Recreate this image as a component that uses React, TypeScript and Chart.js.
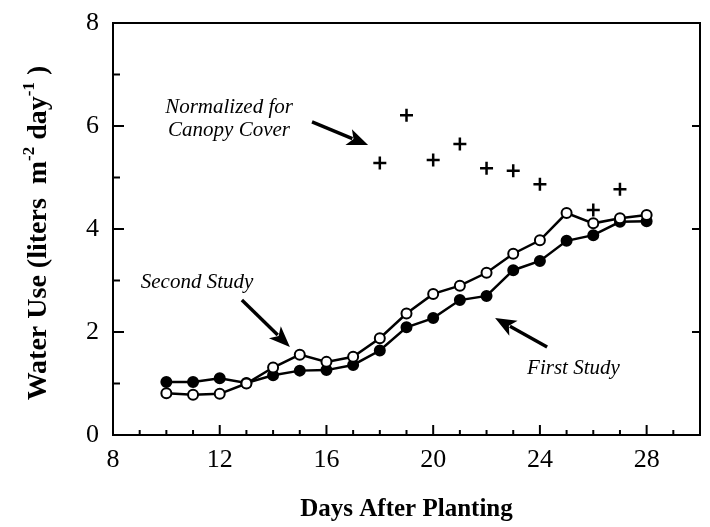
import React, { useEffect, useRef } from "react";
import { Chart, registerables } from "chart.js";

Chart.register(...registerables);

// ---- Data ----
const days = [10, 11, 12, 13, 14, 15, 16, 17, 18, 19, 20, 21, 22, 23, 24, 25, 26, 27, 28];
const firstStudy = [1.03, 1.03, 1.1, 1.01, 1.16, 1.25, 1.26, 1.36, 1.64, 2.09, 2.27, 2.62, 2.7, 3.2, 3.38, 3.77, 3.88, 4.14, 4.15];
const secondStudy = [0.81, 0.78, 0.8, 1.0, 1.31, 1.56, 1.42, 1.52, 1.88, 2.36, 2.74, 2.9, 3.15, 3.52, 3.78, 4.31, 4.11, 4.21, 4.27];
const canopyDays = [18, 19, 20, 21, 22, 23, 24, 26, 27];
const canopyValues = [5.28, 6.21, 5.34, 5.65, 5.18, 5.13, 4.87, 4.37, 4.77];
const xTickLabels = [8, 12, 16, 20, 24, 28];
const yTickLabels = [0, 2, 4, 6, 8];

const SERIF = '"Liberation Serif", "Times New Roman", serif';

function drawArrow(ctx: CanvasRenderingContext2D, x1: number, y1: number, x2: number, y2: number) {
  const ang = Math.atan2(y2 - y1, x2 - x1);
  const headLen = 21;
  const headHalf = 8.5;
  ctx.save();
  ctx.strokeStyle = "#000";
  ctx.fillStyle = "#000";
  ctx.lineWidth = 3.4;
  ctx.beginPath();
  ctx.moveTo(x1, y1);
  ctx.lineTo(x2 - Math.cos(ang) * (headLen - 4), y2 - Math.sin(ang) * (headLen - 4));
  ctx.stroke();
  ctx.beginPath();
  ctx.moveTo(x2, y2);
  ctx.lineTo(
    x2 - Math.cos(ang) * headLen + Math.sin(ang) * headHalf,
    y2 - Math.sin(ang) * headLen - Math.cos(ang) * headHalf
  );
  ctx.lineTo(x2 - Math.cos(ang) * headLen * 0.75, y2 - Math.sin(ang) * headLen * 0.75);
  ctx.lineTo(
    x2 - Math.cos(ang) * headLen - Math.sin(ang) * headHalf,
    y2 - Math.sin(ang) * headLen + Math.cos(ang) * headHalf
  );
  ctx.closePath();
  ctx.fill();
  ctx.restore();
}

const framePlugin = {
  id: "frameAndNotes",
  afterDraw(chart: any) {
    const { ctx, chartArea } = chart;
    const xs = chart.scales.x;
    const ys = chart.scales.y;
    const { left, right, top, bottom } = chartArea;
    ctx.save();
    ctx.strokeStyle = "#000";
    ctx.lineWidth = 2;
    ctx.strokeRect(left, top, right - left, bottom - top);

    for (let d = 9; d < 30; d++) {
      const px = xs.getPixelForValue(d);
      const len = d % 4 === 0 ? 10 : 5;
      ctx.beginPath();
      ctx.moveTo(px, bottom);
      ctx.lineTo(px, bottom - len);
      ctx.stroke();
    }
    for (let v = 1; v < 8; v++) {
      const py = ys.getPixelForValue(v);
      const len = v % 2 === 0 ? 11 : 7;
      ctx.beginPath();
      ctx.moveTo(left, py);
      ctx.lineTo(left + len, py);
      ctx.stroke();
    }
    for (let v = 2; v < 8; v += 2) {
      const py = ys.getPixelForValue(v);
      ctx.beginPath();
      ctx.moveTo(right, py);
      ctx.lineTo(right - 8, py);
      ctx.stroke();
    }

    // y-axis title with superscripts
    const fs = 28;
    const segs = [
      { t: "Water Use (liters  m", sup: false },
      { t: "-2", sup: true },
      { t: " day", sup: false },
      { t: "-1", sup: true },
      { t: " )", sup: false },
    ];
    const normFont = `bold ${fs}px ${SERIF}`;
    const supFont = `bold ${Math.round(fs * 0.6)}px ${SERIF}`;
    let total = 0;
    const widths: number[] = [];
    for (const s of segs) {
      ctx.font = s.sup ? supFont : normFont;
      const w = ctx.measureText(s.t).width;
      widths.push(w);
      total += w;
    }
    ctx.translate(28, 225);
    ctx.rotate(-Math.PI / 2);
    ctx.fillStyle = "#000";
    ctx.textBaseline = "alphabetic";
    ctx.textAlign = "left";
    let cx = -total / 2;
    segs.forEach((s, i) => {
      ctx.font = s.sup ? supFont : normFont;
      ctx.fillText(s.t, cx, s.sup ? fs * 0.35 - fs * 0.42 : fs * 0.35);
      cx += widths[i];
    });
    ctx.restore();

    // annotations
    ctx.save();
    ctx.fillStyle = "#000";
    ctx.font = `italic 21px ${SERIF}`;
    ctx.textBaseline = "middle";
    ctx.textAlign = "center";
    ctx.fillText("Normalized for", xs.getPixelForValue(12.35), ys.getPixelForValue(6.35));
    ctx.fillText("Canopy Cover", xs.getPixelForValue(12.35), ys.getPixelForValue(5.92));
    ctx.fillText("Second Study", xs.getPixelForValue(11.15), ys.getPixelForValue(2.97));
    ctx.textAlign = "left";
    ctx.fillText("First Study", xs.getPixelForValue(23.52), ys.getPixelForValue(1.3));
    ctx.restore();

    drawArrow(ctx, xs.getPixelForValue(15.46), ys.getPixelForValue(6.08), xs.getPixelForValue(17.56), ys.getPixelForValue(5.63));
    drawArrow(ctx, xs.getPixelForValue(12.83), ys.getPixelForValue(2.62), xs.getPixelForValue(14.63), ys.getPixelForValue(1.71));
    drawArrow(ctx, xs.getPixelForValue(24.27), ys.getPixelForValue(1.71), xs.getPixelForValue(22.32), ys.getPixelForValue(2.27));
  },
};

export default function App() {
  const ref = useRef<HTMLCanvasElement | null>(null);
  useEffect(() => {
    if (!ref.current) return;
    const chart = new Chart(ref.current, {
      type: "line",
      data: {
        datasets: [
          {
            label: "Normalized for Canopy Cover",
            data: canopyDays.map((d, i) => ({ x: d, y: canopyValues[i] })),
            showLine: false,
            pointStyle: "cross",
            pointRadius: 6.5,
            pointBorderWidth: 2.5,
            borderColor: "#000",
            backgroundColor: "#000",
            order: 0,
          },
          {
            label: "Second Study",
            data: days.map((d, i) => ({ x: d, y: secondStudy[i] })),
            borderColor: "#000",
            borderWidth: 2.5,
            pointRadius: 5,
            pointBorderWidth: 2,
            pointBackgroundColor: "#fff",
            pointBorderColor: "#000",
            tension: 0,
            order: 1,
          },
          {
            label: "First Study",
            data: days.map((d, i) => ({ x: d, y: firstStudy[i] })),
            borderColor: "#000",
            borderWidth: 2.5,
            pointRadius: 5,
            pointBorderWidth: 2,
            pointBackgroundColor: "#000",
            pointBorderColor: "#000",
            tension: 0,
            order: 2,
          },
        ],
      },
      options: {
        responsive: false,
        animation: false,
        devicePixelRatio: 1,
        layout: { padding: { top: 15, right: 10, bottom: 0, left: 0 } },
        plugins: { legend: { display: false }, tooltip: { enabled: false } },
        scales: {
          x: {
            type: "linear",
            min: 8,
            max: 30,
            grid: { display: false, drawTicks: false },
            border: { display: false },
            afterBuildTicks: (s: any) => {
              s.ticks = xTickLabels.map((v) => ({ value: v }));
            },
            afterFit: (s: any) => {
              s.height = 92;
              s.paddingLeft = 0;
              s.paddingRight = 0;
            },
            ticks: {
              color: "#000",
              font: { family: SERIF, size: 26 },
              padding: 10,
              maxRotation: 0,
              autoSkip: false,
            },
            title: {
              display: true,
              text: "Days After Planting",
              color: "#000",
              font: { family: SERIF, size: 25, weight: "bold" },
              padding: { top: 0, bottom: 2 },
            },
          },
          y: {
            type: "linear",
            min: 0,
            max: 8,
            grid: { display: false, drawTicks: false },
            border: { display: false },
            afterBuildTicks: (s: any) => {
              s.ticks = yTickLabels.map((v) => ({ value: v }));
            },
            afterFit: (s: any) => {
              s.width = 105;
              s.paddingTop = 0;
              s.paddingBottom = 0;
            },
            ticks: {
              color: "#000",
              font: { family: SERIF, size: 26 },
              padding: 14,
              autoSkip: false,
            },
          },
        },
      },
      plugins: [framePlugin],
    });
    return () => chart.destroy();
  }, []);
  return (
    <div style={{ width: 702, height: 519 }}>
      <canvas ref={ref} width={702} height={519} />
    </div>
  );
}
